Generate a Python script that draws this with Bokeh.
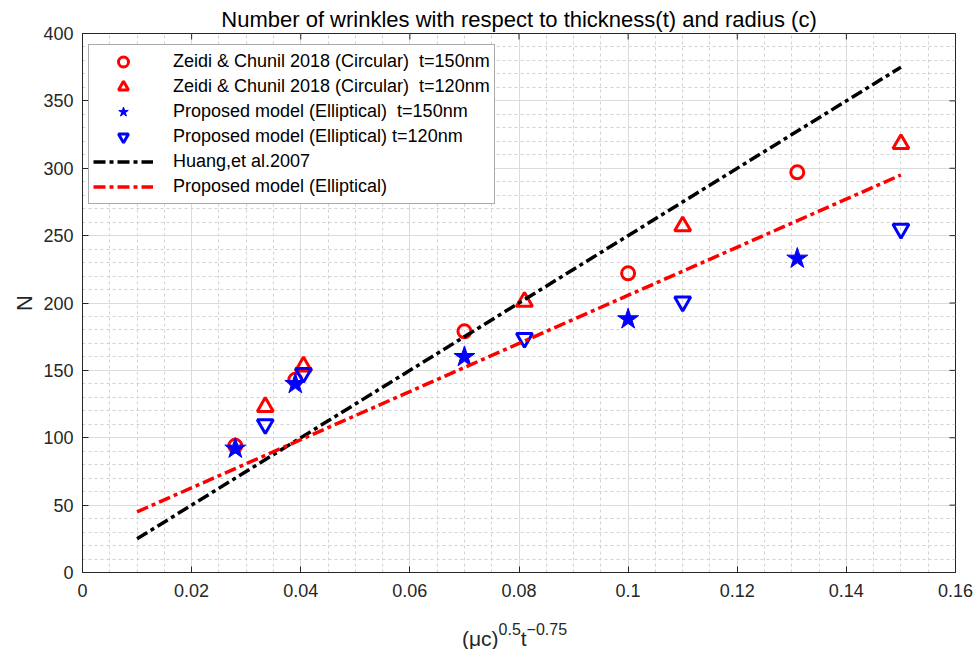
import math
from bokeh.plotting import figure
from bokeh.layouts import column
from bokeh.models import (FixedTicker, NumeralTickFormatter, Label, Legend, LegendItem)
from bokeh.embed import file_html
from bokeh.resources import INLINE

# ---------------- data ----------------
x_t150 = [0.028, 0.039, 0.070, 0.100, 0.131]
x_t120 = [0.0335, 0.0405, 0.081, 0.110, 0.150]
zeidi_t150 = [94, 143, 179, 222, 297]
zeidi_t120 = [123, 153, 201, 257, 318]
proposed_t150 = [92, 140, 160, 188, 233]
proposed_t120 = [110, 148, 174, 201, 255]

x_fit = [0.01, 0.15]
huang_fit = [25, 375]
proposed_fit = [45, 295]

x_ticks = [0, 0.02, 0.04, 0.06, 0.08, 0.10, 0.12, 0.14, 0.16]
x_minor = [i * 0.005 for i in range(33)]
y_ticks = [0, 50, 100, 150, 200, 250, 300, 350, 400]
y_minor = list(range(0, 401, 10))

legend_labels = [
    "Zeidi & Chunil 2018 (Circular)  t=150nm",
    "Zeidi & Chunil 2018 (Circular)  t=120nm",
    "Proposed model (Elliptical)  t=150nm",
    "Proposed model (Elliptical) t=120nm",
    "Huang,et al.2007",
    "Proposed model (Elliptical)",
]
title_text = "Number of wrinkles with respect to thickness(t) and radius (c)"
xlabel_parts = ["(\u03bcc)", "0.5", "t", "\u22120.75"]

FONT = "Liberation Sans"
AX = "#262626"
X0, X1 = 0, 0.16
Y0, Y1 = 0, 400

p = figure(width=979, height=610, x_range=(X0, X1), y_range=(Y0, Y1),
           output_backend="svg", toolbar_location=None,
           min_border_left=82, min_border_right=24, min_border_top=33,
           min_border_bottom=38, title=title_text)
p.title.text_font = FONT
p.title.text_font_size = "22px"
p.title.text_font_style = "normal"
p.title.text_color = "#000000"
p.title.align = "center"
p.title.standoff = 3

p.outline_line_color = AX
p.outline_line_width = 1
p.background_fill_color = "white"
p.border_fill_color = "white"

p.xaxis.ticker = FixedTicker(ticks=x_ticks, minor_ticks=x_minor)
p.yaxis.ticker = FixedTicker(ticks=y_ticks, minor_ticks=y_minor)
p.xaxis.formatter = NumeralTickFormatter(format="0.[00]")

for ax in (p.xaxis[0], p.yaxis[0]):
    ax.major_tick_in = 6
    ax.major_tick_out = 0
    ax.minor_tick_in = 0
    ax.minor_tick_out = 0
    ax.axis_line_color = AX
    ax.major_tick_line_color = AX
    ax.major_label_text_color = AX
    ax.major_label_text_font = FONT
    ax.major_label_text_font_size = "18px"
p.xaxis.major_label_standoff = 11
p.yaxis.major_label_standoff = 9

p.yaxis.axis_label = "N"
p.yaxis.axis_label_text_font = FONT
p.yaxis.axis_label_text_font_style = "normal"
p.yaxis.axis_label_text_font_size = "22px"
p.yaxis.axis_label_text_color = AX
p.yaxis.axis_label_standoff = 3

for g in (p.xgrid[0], p.ygrid[0]):
    g.grid_line_color = "#dcdcdc"
    g.grid_line_width = 1
    g.minor_grid_line_color = "#d2d2d2"
    g.minor_grid_line_dash = "3 3"
    g.minor_grid_line_width = 1

# box ticks on the top and right edges (half of each dash is clipped by the frame)
p.scatter(x_ticks, [Y1] * len(x_ticks), marker="dash", angle=math.pi / 2,
          size=12, line_color=AX, line_width=1)
p.scatter([X1] * len(y_ticks), y_ticks, marker="dash", angle=0,
          size=12, line_color=AX, line_width=1)

# ---------------- glyphs ----------------
r1 = p.scatter(x_t150, zeidi_t150, marker="circle", size=13, fill_color=None,
               line_color="#ff0000", line_width=3)
r2 = p.scatter(x_t120, zeidi_t120, marker="triangle", size=16, fill_color=None,
               line_color="#ff0000", line_width=3)
r3 = p.scatter(x_t150, proposed_t150, marker="star", size=22, fill_color="#0000ff",
               line_color="#0000ff", line_width=1)
r4 = p.scatter(x_t120, proposed_t120, marker="inverted_triangle", size=16,
               fill_color=None, line_color="#0000ff", line_width=3)
r5 = p.line(x_fit, huang_fit, line_color="#000000", line_width=3.5,
            line_dash="12 4 4 4")
r6 = p.line(x_fit, proposed_fit, line_color="#ff0000", line_width=3.5,
            line_dash="12 4 4 4")

legend = Legend(items=[LegendItem(label=l, renderers=[r])
                       for l, r in zip(legend_labels, [r1, r2, r3, r4, r5, r6])],
                location=(6, 368))
legend.label_text_font = FONT
legend.label_text_font_size = "18px"
legend.label_text_color = "#000000"
legend.glyph_width = 60
legend.glyph_height = 25
legend.label_height = 25
legend.spacing = 0
legend.padding = 4
legend.margin = 0
legend.label_standoff = 20
legend.border_line_color = "#555555"
legend.border_line_width = 1
legend.background_fill_color = "white"
legend.background_fill_alpha = 1
p.add_layout(legend)

# ---------------- x axis label strip (with superscripts) ----------------
p2 = figure(width=979, height=39, x_range=p.x_range, y_range=(0, 1),
            output_backend="svg", toolbar_location=None,
            x_axis_location=None, y_axis_location=None,
            min_border_left=82, min_border_right=24, min_border_top=0,
            min_border_bottom=0)
p2.outline_line_color = None
p2.grid.grid_line_color = None
p2.background_fill_color = "white"
p2.border_fill_color = "white"

part_style = [("21px", -57, 11), ("16px", -20.4, 21), ("21px", 1.8, 11), ("16px", 7.6, 21)]
for txt, (fs, xo, ys) in zip(xlabel_parts, part_style):
    p2.add_layout(Label(x=(X0 + X1) / 2, y=ys, y_units="screen", x_offset=xo,
                        text=txt, text_font=FONT, text_font_size=fs, text_color=AX,
                        text_align="left", text_baseline="alphabetic"))

layout = column(p, p2, spacing=0)
open("out.html", "w").write(file_html(layout, INLINE))
